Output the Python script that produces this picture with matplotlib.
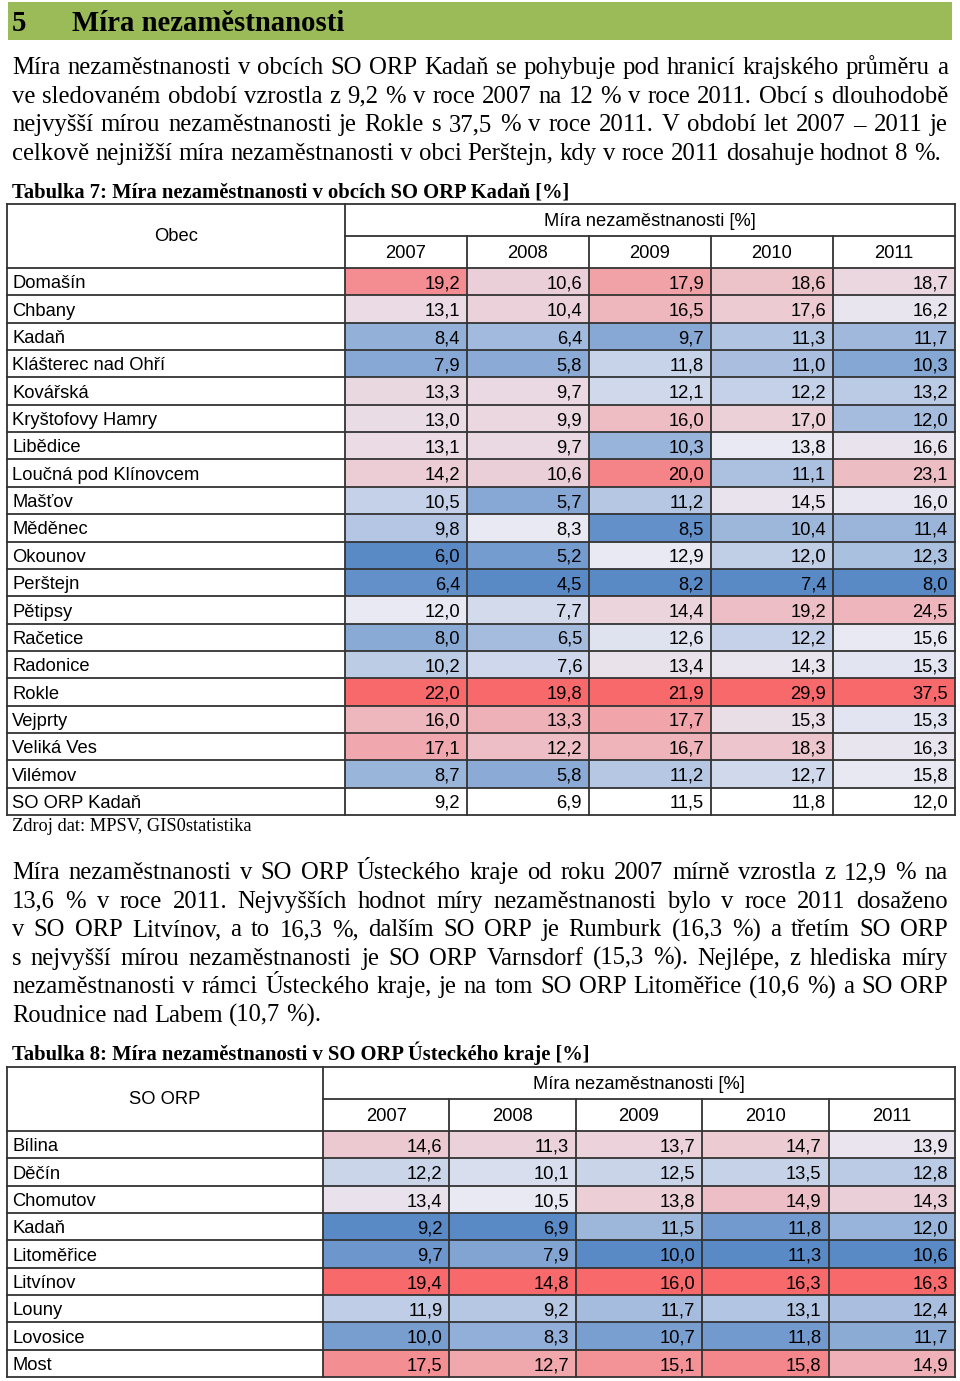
import numpy as np
import matplotlib.pyplot as plt
from matplotlib.patches import Rectangle
from matplotlib.colors import to_rgb

SERIF = 'Liberation Serif'
SANS = 'Liberation Sans'

# --- data ---
roky = ['2007', '2008', '2009', '2010', '2011']

obce = ['Domašín', 'Chbany', 'Kadaň', 'Klášterec nad Ohří', 'Kovářská',
        'Kryštofovy Hamry', 'Libědice', 'Loučná pod Klínovcem', 'Mašťov',
        'Měděnec', 'Okounov', 'Perštejn', 'Pětipsy', 'Račetice', 'Radonice',
        'Rokle', 'Vejprty', 'Veliká Ves', 'Vilémov']
mira_obce = [
    [19.2, 10.6, 17.9, 18.6, 18.7],
    [13.1, 10.4, 16.5, 17.6, 16.2],
    [8.4, 6.4, 9.7, 11.3, 11.7],
    [7.9, 5.8, 11.8, 11.0, 10.3],
    [13.3, 9.7, 12.1, 12.2, 13.2],
    [13.0, 9.9, 16.0, 17.0, 12.0],
    [13.1, 9.7, 10.3, 13.8, 16.6],
    [14.2, 10.6, 20.0, 11.1, 23.1],
    [10.5, 5.7, 11.2, 14.5, 16.0],
    [9.8, 8.3, 8.5, 10.4, 11.4],
    [6.0, 5.2, 12.9, 12.0, 12.3],
    [6.4, 4.5, 8.2, 7.4, 8.0],
    [12.0, 7.7, 14.4, 19.2, 24.5],
    [8.0, 6.5, 12.6, 12.2, 15.6],
    [10.2, 7.6, 13.4, 14.3, 15.3],
    [22.0, 19.8, 21.9, 29.9, 37.5],
    [16.0, 13.3, 17.7, 15.3, 15.3],
    [17.1, 12.2, 16.7, 18.3, 16.3],
    [8.7, 5.8, 11.2, 12.7, 15.8],
]
kadan_celkem = [9.2, 6.9, 11.5, 11.8, 12.0]

orp = ['Bílina', 'Děčín', 'Chomutov', 'Kadaň', 'Litoměřice', 'Litvínov',
       'Louny', 'Lovosice', 'Most']
mira_orp = [
    [14.6, 11.3, 13.7, 14.7, 13.9],
    [12.2, 10.1, 12.5, 13.5, 12.8],
    [13.4, 10.5, 13.8, 14.9, 14.3],
    [9.2, 6.9, 11.5, 11.8, 12.0],
    [9.7, 7.9, 10.0, 11.3, 10.6],
    [19.4, 14.8, 16.0, 16.3, 16.3],
    [11.9, 9.2, 11.7, 13.1, 12.4],
    [10.0, 8.3, 10.7, 11.8, 11.7],
    [17.5, 12.7, 15.1, 15.8, 14.9],
]
# the ORP table continues on the next page, so its colour scale midpoints
# come from the whole kraj, not only from the rows shown here
stred_orp = [13.0, 10.5, 13.2, 14.2, 13.8]

odstavec1 = [
    'Míra nezaměstnanosti v obcích SO ORP Kadaň se pohybuje pod hranicí krajského průměru a',
    've sledovaném období vzrostla z 9,2 % v roce 2007 na 12 % v roce 2011. Obcí s dlouhodobě',
    'nejvyšší mírou nezaměstnanosti je Rokle s 37,5 % v roce 2011. V období let 2007 – 2011 je',
    'celkově nejnižší míra nezaměstnanosti v obci Perštejn, kdy v roce 2011 dosahuje hodnot 8 %.',
]
odstavec2 = [
    'Míra nezaměstnanosti v SO ORP Ústeckého kraje od roku 2007 mírně vzrostla z 12,9 % na',
    '13,6 % v roce 2011. Nejvyšších hodnot míry nezaměstnanosti bylo v roce 2011 dosaženo',
    'v SO ORP Litvínov, a to 16,3 %, dalším SO ORP je Rumburk (16,3 %) a třetím SO ORP',
    's nejvyšší mírou nezaměstnanosti je SO ORP Varnsdorf (15,3 %). Nejlépe, z hlediska míry',
    'nezaměstnanosti v rámci Ústeckého kraje, je na tom SO ORP Litoměřice (10,6 %) a SO ORP',
    'Roudnice nad Labem (10,7 %).',
]

# --- figure in pixel coordinates ---
fig = plt.figure(figsize=(9.6, 13.81), dpi=100)
ax = fig.add_axes([0, 0, 1, 1])
ax.set_xlim(0, 960)
ax.set_ylim(1381, 0)
ax.axis('off')
r = fig.canvas.get_renderer()


def sirka(s, size, **kw):
    t = ax.text(0, 0, s, fontsize=size, **kw)
    w = t.get_window_extent(r).width
    t.remove()
    return w


def velikost(s, target, **kw):
    return 10 * target / sirka(s, 10, **kw)


def odstavec(radky, y0, dy, size, x0=12, x1=948):
    mez = sirka('a a', size, family=SERIF) - sirka('aa', size, family=SERIF)
    for i, radek in enumerate(radky):
        slova = radek.split(' ')
        y = y0 + i * dy
        txt = [ax.text(0, y, s, fontsize=size, family=SERIF, va='baseline')
               for s in slova]
        w = [t.get_window_extent(r).width for t in txt]
        if i == len(radky) - 1:
            gap = mez
        else:
            gap = (x1 - x0 - sum(w)) / (len(slova) - 1)
        x = x0
        for t, wi in zip(txt, w):
            t.set_x(x)
            x += wi + gap


# heading bar
ax.add_patch(Rectangle((8, 2), 944, 38, color='#9BBB59', lw=0))
hs = velikost('Míra nezaměstnanosti', 273, family=SERIF, weight='bold')
ax.text(12, 31, '5', fontsize=hs, family=SERIF, weight='bold', va='baseline')
ax.text(72, 31, 'Míra nezaměstnanosti', fontsize=hs, family=SERIF,
        weight='bold', va='baseline')

s1 = velikost(odstavec1[-1], 931, family=SERIF)
odstavec(odstavec1, 74, 28.7, s1)

s2 = velikost(odstavec2[-1], 310, family=SERIF)
s2 = min(s2, s1)
odstavec(odstavec2, 879, 28.6, s2)

cs = velikost('Tabulka 7: Míra nezaměstnanosti v obcích SO ORP Kadaň [%]', 560,
              family=SERIF, weight='bold')
ax.text(12, 197, 'Tabulka 7: Míra nezaměstnanosti v obcích SO ORP Kadaň [%]',
        fontsize=cs, family=SERIF, weight='bold', va='baseline')
ax.text(12, 1060, 'Tabulka 8: Míra nezaměstnanosti v SO ORP Ústeckého kraje [%]',
        fontsize=cs, family=SERIF, weight='bold', va='baseline')
zs = velikost('Zdroj dat: MPSV, GIS0statistika', 240, family=SERIF)
ax.text(12, 831, 'Zdroj dat: MPSV, GIS0statistika', fontsize=zs, family=SERIF,
        va='baseline')

# --- tables ---
C_MIN = np.array(to_rgb('#5A8AC6'))
C_MID = np.array(to_rgb('#E8E9F3'))
C_MAX = np.array(to_rgb('#F8696B'))


def barva(v, lo, mid, hi):
    if v <= mid:
        t = (mid - v) / (mid - lo) if mid > lo else 0
        return C_MID + (C_MIN - C_MID) * t
    t = (v - mid) / (hi - mid) if hi > mid else 0
    return C_MID + (C_MAX - C_MID) * t


ts = velikost('Klášterec nad Ohří', 154, family=SANS)
base_off = 0.36 * ts * 100 / 72
LC = '#333333'
LW = 1.3


def fmt(v):
    return f'{v:.1f}'.replace('.', ',')


def tabulka(top, name_r, hlavicka, jmena, hodnoty, stredy=None, celkem=None):
    x0, x1 = 7, 955
    hh, rh = 32, 27.35
    cw = (x1 - name_r) / len(roky)
    data = np.array(hodnoty)
    radky = list(zip(jmena, hodnoty))
    if celkem is not None:
        radky.append(celkem)
    y_body = top + 2 * hh
    bottom = y_body + len(radky) * rh
    for i, (jm, vals) in enumerate(radky):
        y = y_body + i * rh
        for j, v in enumerate(vals):
            xc = name_r + j * cw
            if i < len(data):
                col = data[:, j]
                mid = np.median(col) if stredy is None else stredy[j]
                fc = barva(v, col.min(), mid, col.max())
                ax.add_patch(Rectangle((xc, y), cw, rh, color=fc, lw=0))
            ax.text(xc + cw - 7, y + rh / 2 + base_off, fmt(v), fontsize=ts,
                    family=SANS, ha='right', va='baseline')
        ax.text(12, y + rh / 2 + base_off, jm, fontsize=ts, family=SANS,
                va='baseline')
    # grid
    for i in range(len(radky) + 1):
        ax.plot([x0, x1], [y_body + i * rh] * 2, color=LC, lw=LW)
    ax.plot([x0, x1], [top, top], color=LC, lw=LW)
    ax.plot([name_r, x1], [top + hh, top + hh], color=LC, lw=LW)
    ax.plot([x0, x0], [top, bottom], color=LC, lw=LW)
    ax.plot([x1, x1], [top, bottom], color=LC, lw=LW)
    ax.plot([name_r, name_r], [top, bottom], color=LC, lw=LW)
    for j in range(1, len(roky)):
        ax.plot([name_r + j * cw] * 2, [top + hh, bottom], color=LC, lw=LW)
    # header texts
    ax.text((x0 + name_r) / 2, top + hh + base_off - 2, hlavicka, fontsize=ts,
            family=SANS, ha='center', va='baseline')
    ax.text((name_r + x1) / 2, top + hh / 2 + base_off - 1,
            'Míra nezaměstnanosti [%]', fontsize=ts, family=SANS,
            ha='center', va='baseline')
    for j, rok in enumerate(roky):
        ax.text(name_r + (j + 0.5) * cw, top + 1.5 * hh + base_off - 1, rok,
                fontsize=ts, family=SANS, ha='center', va='baseline')


tabulka(204, 345, 'Obec', obce, mira_obce,
        celkem=('SO ORP Kadaň', kadan_celkem))
tabulka(1067, 323, 'SO ORP', orp, mira_orp, stredy=stred_orp)

fig.savefig('out.png', dpi=100, facecolor='white')
